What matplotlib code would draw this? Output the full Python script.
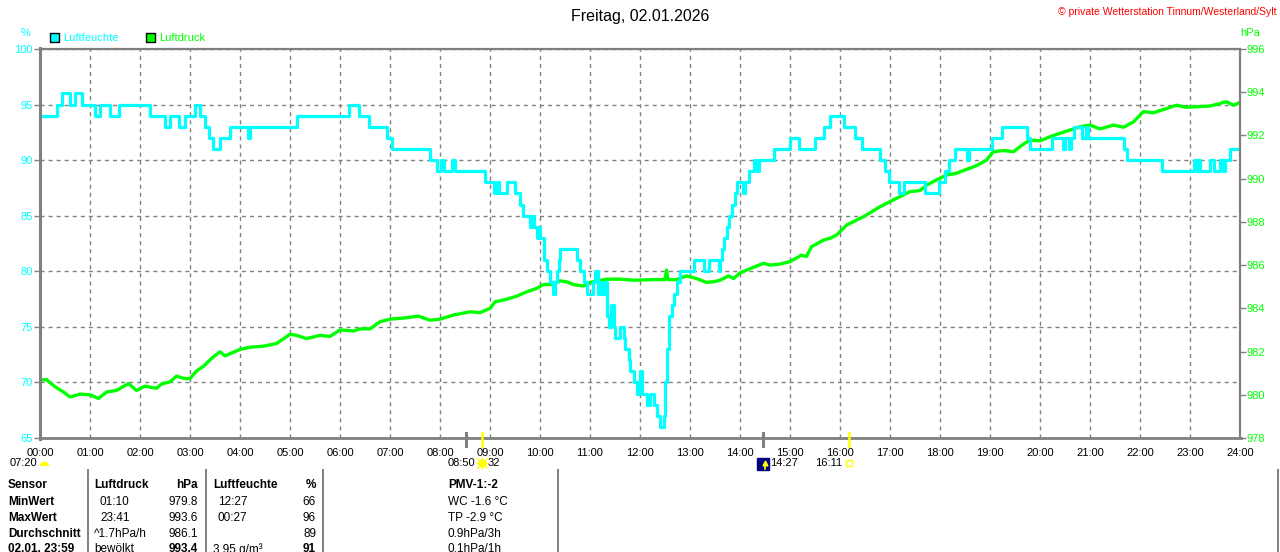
import matplotlib
matplotlib.use("Agg")
import matplotlib.pyplot as plt
from matplotlib.patches import Rectangle, Wedge
from matplotlib.lines import Line2D
from matplotlib.transforms import blended_transform_factory

plt.rcParams['font.family'] = ['Liberation Sans', 'DejaVu Sans']

# ---------------- data ----------------
hum_t = [0.0, 0.33, 0.43, 0.6, 0.7, 0.83, 1.1, 1.2, 1.4, 1.57, 2.2, 2.5, 2.6, 2.77, 2.9,
         3.1, 3.2, 3.3, 3.37, 3.45, 3.6, 3.8, 4.15, 4.2, 5.13, 6.17, 6.37, 6.57, 6.93, 7.03,
         7.8, 7.93, 8.03, 8.08, 8.23, 8.3, 8.9, 9.07, 9.13, 9.17, 9.33, 9.5, 9.6, 9.65, 9.8,
         9.83, 9.87, 9.93, 9.97, 10.0, 10.07, 10.13, 10.2, 10.25, 10.3, 10.33, 10.37, 10.4,
         10.73, 10.8, 10.87, 10.93, 11.05, 11.1, 11.15, 11.2, 11.23, 11.3, 11.33, 11.37,
         11.42, 11.47, 11.5, 11.6, 11.67, 11.7, 11.77, 11.8, 11.87, 11.93, 11.97, 12.0,
         12.03, 12.13, 12.2, 12.27, 12.33, 12.4, 12.47, 12.5, 12.53, 12.57, 12.63, 12.67,
         12.73, 12.8, 13.07, 13.27, 13.37, 13.57, 13.6, 13.63, 13.67, 13.73, 13.77, 13.83,
         13.9, 13.93, 14.05, 14.1, 14.17, 14.27, 14.33, 14.37, 14.67, 15.0, 15.17, 15.5,
         15.67, 15.8, 16.07, 16.3, 16.43, 16.8, 16.9, 16.97, 17.17, 17.27, 17.7, 17.97,
         18.1, 18.17, 18.3, 18.53, 18.57, 19.03, 19.23, 19.73, 19.8, 20.23, 20.45, 20.49,
         20.57, 20.61, 20.67, 20.83, 20.92, 20.96, 21.67, 21.73, 22.43, 23.07, 23.13, 23.17,
         23.2, 23.4, 23.47, 23.6, 23.65, 23.7, 23.8, 24.0]
hum_v = [94, 95, 96, 95, 96, 95, 94, 95, 94, 95, 94, 93, 94, 93, 94,
         95, 94, 93, 92, 91, 92, 93, 92, 93, 94, 95, 94, 93, 92, 91,
         90, 89, 90, 89, 90, 89, 88, 87, 88, 87, 88, 87, 86, 85, 84,
         85, 84, 83, 84, 83, 81, 80, 79, 78, 79, 80, 81, 82,
         81, 80, 79, 78, 79, 80, 78, 79, 78, 79, 76, 75,
         77, 75, 74, 75, 74, 73, 72, 71, 70, 69, 70, 71,
         69, 68, 69, 68, 67, 66, 67, 70, 73, 76, 77, 78,
         79, 80, 81, 80, 81, 80, 81, 82, 83, 84, 85, 86,
         87, 88, 87, 88, 89, 90, 89, 90, 91, 92, 91, 92,
         93, 94, 93, 92, 91, 90, 89, 88, 87, 88, 87, 88,
         89, 90, 91, 90, 91, 92, 93, 92, 91, 92, 91, 92,
         91, 92, 93, 92, 93, 92, 91, 90, 89, 90, 89, 90,
         89, 90, 89, 90, 89, 90, 91, 91]

pres_t = [0.0, 0.13, 0.3, 0.47, 0.6, 0.8, 1.0, 1.17, 1.33, 1.53, 1.77, 1.93, 2.1, 2.33, 2.43,
          2.6, 2.73, 2.9, 3.0, 3.13, 3.27, 3.43, 3.6, 3.7, 3.8, 4.0, 4.2, 4.47, 4.73, 5.0,
          5.13, 5.33, 5.6, 5.8, 6.0, 6.27, 6.4, 6.6, 6.8, 7.0, 7.27, 7.57, 7.8, 8.0, 8.27,
          8.6, 8.8, 9.0, 9.1, 9.3, 9.53, 9.73, 9.93, 10.07, 10.27, 10.4, 10.53, 10.67, 10.87,
          11.0, 11.33, 11.6, 11.87, 12.27, 12.5, 12.53, 12.56, 12.73, 12.93, 13.13, 13.33,
          13.47, 13.6, 13.77, 13.87, 14.0, 14.27, 14.47, 14.6, 14.8, 15.0, 15.23, 15.33,
          15.43, 15.67, 15.8, 15.93, 16.13, 16.47, 16.8, 17.13, 17.4, 17.6, 17.73, 17.93,
          18.13, 18.33, 18.53, 18.73, 18.93, 19.07, 19.27, 19.47, 19.67, 19.8, 20.0, 20.2,
          20.4, 20.6, 20.8, 21.0, 21.2, 21.47, 21.67, 21.87, 22.07, 22.27, 22.47, 22.73,
          22.93, 23.13, 23.4, 23.73, 23.87, 24.0]
pres_v = [980.68, 980.7, 980.37, 980.13, 979.9, 980.03, 980.0, 979.83, 980.13, 980.2, 980.52,
          980.2, 980.4, 980.3, 980.5, 980.6, 980.86, 980.75, 980.75, 981.1, 981.32, 981.68,
          981.99, 981.8, 981.9, 982.1, 982.2, 982.25, 982.37, 982.8, 982.75, 982.6, 982.75,
          982.7, 983.0, 982.95, 983.05, 983.05, 983.38, 983.5, 983.55, 983.64, 983.45, 983.5,
          983.69, 983.84, 983.8, 984.0, 984.3, 984.4, 984.56, 984.76, 984.92, 985.1, 985.12,
          985.27, 985.23, 985.1, 985.03, 985.2, 985.35, 985.35, 985.3, 985.33, 985.33, 985.77,
          985.33, 985.33, 985.5, 985.38, 985.2, 985.23, 985.3, 985.5, 985.38, 985.64, 985.9,
          986.08, 986.0, 986.05, 986.16, 986.46, 986.4, 986.85, 987.16, 987.24, 987.39,
          987.85, 988.24, 988.7, 989.09, 989.4, 989.45, 989.7, 989.94, 990.17, 990.25,
          990.43, 990.6, 990.86, 991.25, 991.3, 991.25, 991.6, 991.79, 991.75, 991.94,
          992.1, 992.25, 992.4, 992.48, 992.3, 992.48, 992.38, 992.63, 993.1, 993.05,
          993.2, 993.4, 993.3, 993.33, 993.36, 993.56, 993.4, 993.53]

hour_labels = [f"{h:02d}:00" for h in range(25)]
hum_ticks = [65, 70, 75, 80, 85, 90, 95, 100]
pres_ticks = [978, 980, 982, 984, 986, 988, 990, 992, 994, 996]

gray_marks = [8.53, 14.45]      # 08:32, 14:27
yellow_marks = [8.83, 16.18]    # sunrise 08:50, sunset 16:11

title = "Freitag, 02.01.2026"
copyright_txt = "© private Wetterstation Tinnum/Westerland/Sylt"

row_labels = ["Sensor", "MinWert", "MaxWert", "Durchschnitt", "02.01. 23:59"]
p_col_a = ["Luftdruck", "01:10", "23:41", "^1.7hPa/h", "bewölkt"]
p_col_b = ["hPa", "979.8", "993.6", "986.1", "993.4"]
h_col_a = ["Luftfeuchte", "12:27", "00:27", "", "3.95 g/m³"]
h_col_b = ["%", "66", "96", "89", "91"]
extra_col = ["PMV-1:-2", "WC -1.6 °C", "TP -2.9 °C", "0.9hPa/3h", "0.1hPa/1h"]

CYAN = "#00FFFF"
GREEN = "#00FF00"
GRAY = "#808080"

# ---------------- figure ----------------
W, H = 1280, 552
fig = plt.figure(figsize=(W / 100, H / 100), dpi=100)
fig.patch.set_facecolor("white")

L, R, T, B = 40, 1240, 49, 438
ax = fig.add_axes([L / W, (H - B) / H, (R - L) / W, (B - T) / H])
ax2 = ax.twinx()

ax.set_xlim(0, 24)
ax.set_ylim(65, 100)
ax2.set_ylim(978, 996)

ax.set_xticks(range(25))
ax.set_xticklabels(hour_labels)
ax.set_yticks(hum_ticks)
ax.set_yticklabels([str(v) for v in hum_ticks])
ax2.set_yticks(pres_ticks)
ax2.set_yticklabels([str(v) for v in pres_ticks])

ax.grid(True, color=GRAY, linestyle=(0, (2.9, 2.9)), linewidth=1.0)
ax.set_axisbelow(True)

for a in (ax, ax2):
    for s in a.spines.values():
        s.set_visible(False)

ax.tick_params(axis='x', length=0, pad=7, labelsize=8, labelcolor='black')
ax.tick_params(axis='y', length=4, width=1, color=GRAY, pad=1, labelsize=8, labelcolor=CYAN)
ax2.tick_params(axis='y', length=4, width=1, color=GRAY, pad=1, labelsize=8, labelcolor=GREEN)

# pressure line (right axis)
ax2.plot(pres_t, pres_v, color=GREEN, linewidth=2.4, zorder=3)
# humidity step line (left axis scale), drawn on top
ax2.plot(hum_t, hum_v, color=CYAN, linewidth=2.3, drawstyle='steps-post',
         transform=ax.transData, zorder=4)
ax2.set_ylim(978, 996)
ax2.set_xlim(0, 24)

# ---------------- overlay for texts ----------------
ov = fig.add_axes([0, 0, 1, 1], zorder=5)
ov.set_xlim(0, W)
ov.set_ylim(H, 0)
ov.axis('off')
ov.patch.set_visible(False)

# plot frame
ov.add_line(Line2D([L, L], [T - 1, B + 1], color=GRAY, linewidth=2.2))
ov.add_line(Line2D([L, R], [T, T], color=GRAY, linewidth=1.6))
ov.add_line(Line2D([L, R + 1], [B, B], color=GRAY, linewidth=2.0))
ov.add_line(Line2D([R, R], [T, B], color=GRAY, linewidth=1.6))

ov.text(640, 16, title, ha='center', va='center', fontsize=11.5, color='black')
ov.text(1277, 12, copyright_txt, ha='right', va='center', fontsize=7.5, color='red')
ov.text(26, 33, "%", ha='center', va='center', fontsize=8, color=CYAN)
ov.text(1250, 33, "hPa", ha='center', va='center', fontsize=8, color=GREEN)

ov.add_patch(Rectangle((50, 33), 9, 9, facecolor=CYAN, edgecolor='black', linewidth=1))
ov.text(63, 38, "Luftfeuchte", ha='left', va='center', fontsize=8, color=CYAN)
ov.add_patch(Rectangle((146, 33), 9, 9, facecolor=GREEN, edgecolor='black', linewidth=1))
ov.text(159, 38, "Luftdruck", ha='left', va='center', fontsize=8, color=GREEN)

# event marks on the time axis
trans = blended_transform_factory(ax.transData, ov.transData)
for t in gray_marks:
    ov.add_line(Line2D([t, t], [433, 446], transform=trans, color=GRAY, linewidth=2.2))
for t in yellow_marks:
    ov.add_line(Line2D([t, t], [433, 446], transform=trans, color='#FFFF00', linewidth=1.8))

# sun / moon annotations below the axis
ov.text(37, 463, "07:20", ha='right', va='center', fontsize=8)
ov.add_patch(Wedge((44.5, 466), 4.5, 180, 360, facecolor='#FFFF00', edgecolor='none'))

ov.text(475, 463, "08:50", ha='right', va='center', fontsize=8)
ov.add_line(Line2D([yellow_marks[0]], [463], transform=trans, marker='+', markersize=9,
                   markeredgewidth=1, color='#FFFF00', linestyle='none'))
ov.add_line(Line2D([yellow_marks[0]], [463], transform=trans, marker='x', markersize=7,
                   markeredgewidth=1, color='#FFFF00', linestyle='none'))
ov.add_line(Line2D([yellow_marks[0]], [463], transform=trans, marker='o', markersize=5,
                   color='#FFFF00', linestyle='none'))
ov.text(488, 463, "32", ha='left', va='center', fontsize=8)

ov.add_line(Line2D([gray_marks[1]], [463.5], transform=trans, marker='s', markersize=8,
                   color='#000080', linestyle='none'))
ov.add_patch(Rectangle((759.5, 459), 3, 3, facecolor='white', edgecolor='none'))
ov.add_line(Line2D([765, 765], [469, 463], color='#FFFF00', linewidth=1.2))
ov.add_line(Line2D([765], [463], marker='^', markersize=3.5, color='#FFFF00', linestyle='none'))
ov.text(770, 463, "14:27", ha='left', va='center', fontsize=8)

ov.text(842, 463, "16:11", ha='right', va='center', fontsize=8)
ov.add_line(Line2D([yellow_marks[1]], [463], transform=trans, marker='s', markersize=4,
                   markerfacecolor='none', markeredgecolor='#FFFF00', markeredgewidth=1,
                   linestyle='none'))

# ---------------- table ----------------
for x in [88, 206, 323, 558, 1278]:
    ov.add_line(Line2D([x, x], [470, H], color=GRAY, linewidth=1.4))

row_base = [488.5, 504.9, 520.9, 536.9, 552.5]
FS = 8.5
for i, y in enumerate(row_base):
    head = (i == 0)
    last = (i == 4)
    ov.text(8, y, row_labels[i], ha='left', va='baseline', fontsize=FS, fontweight='bold')
    ov.text(94 if (head or i >= 3) else 100, y, p_col_a[i], ha='left', va='baseline',
            fontsize=FS, fontweight='bold' if head else 'normal')
    ov.text(198, y, p_col_b[i], ha='right', va='baseline', fontsize=FS,
            fontweight='bold' if (head or last) else 'normal')
    ov.text(213 if (head or last) else 218, y, h_col_a[i], ha='left', va='baseline',
            fontsize=FS, fontweight='bold' if head else 'normal')
    ov.text(316, y, h_col_b[i], ha='right', va='baseline', fontsize=FS,
            fontweight='bold' if (head or last) else 'normal')
    ov.text(448, y, extra_col[i], ha='left', va='baseline', fontsize=FS,
            fontweight='bold' if head else 'normal')

fig.savefig("out.png", dpi=100, facecolor='white')
